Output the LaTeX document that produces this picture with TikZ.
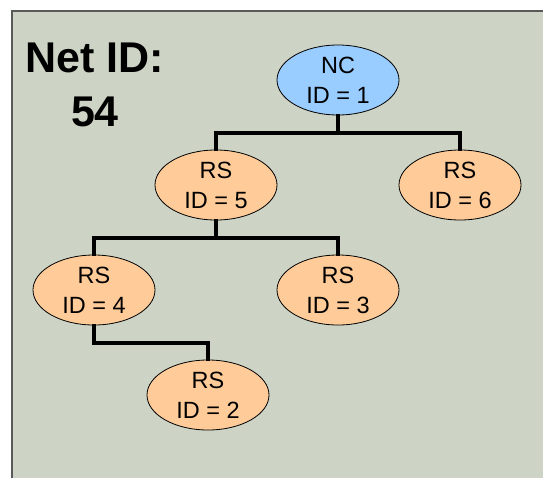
\documentclass[tikz,border=0pt]{standalone}
\usepackage{fontspec}
\setmainfont{Liberation Sans}
\usetikzlibrary{shapes.geometric}
\definecolor{panelbg}{HTML}{CDD3C5}
\definecolor{ncblue}{HTML}{99CCFF}
\definecolor{rsorange}{HTML}{FFCC99}

\begin{document}
\begin{tikzpicture}[x=1pt,y=-1pt,
    station/.style={ellipse,draw=black,line width=0.8pt,minimum width=122pt,
        minimum height=70pt,inner sep=0pt,align=center,
        font=\fontsize{23.5}{30}\selectfont},
    link/.style={line width=3.2pt,line cap=rect}]
            \useasboundingbox (0,0) rectangle (543,477);
            \fill[white] (0,0) rectangle (543,477);
            \draw[fill=panelbg,draw=black!65,line width=1.8pt] (12,11) rectangle (560,500);
            \node[align=center,font=\bfseries\fontsize{43}{54}\selectfont] (netid) at (95,85) {Net ID:\\54};
            \node[station,fill=ncblue] (o1) at (338,80) {NC\\ID = 1};
            \node[station,fill=rsorange] (o5) at (216,185) {RS\\ID = 5};
            \node[station,fill=rsorange] (o6) at (460,185) {RS\\ID = 6};
            \node[station,fill=rsorange] (o4) at (94,290) {RS\\ID = 4};
            \node[station,fill=rsorange] (o3) at (338,290) {RS\\ID = 3};
            \node[station,fill=rsorange] (o2) at (208,395) {RS\\ID = 2};
            \draw[link] (o1.south) -- ++(0,17.5) -| (o5.north);
            \draw[link] (o1.south) -- ++(0,17.5) -| (o6.north);
            \draw[link] (o5.south) -- ++(0,17.5) -| (o4.north);
            \draw[link] (o5.south) -- ++(0,17.5) -| (o3.north);
            \draw[link] (o4.south) -- ++(0,17.5) -| (o2.north);
        \end{tikzpicture}
\end{document}
